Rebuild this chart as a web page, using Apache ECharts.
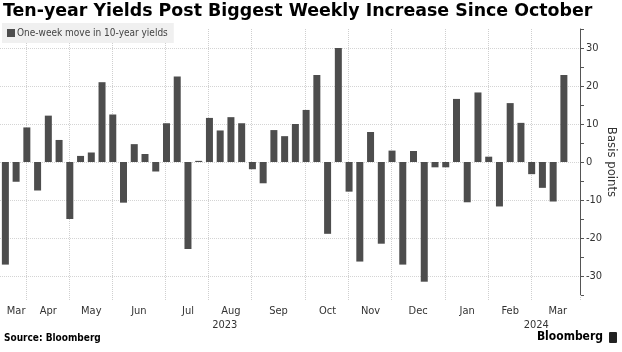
<!DOCTYPE html>
<html>
<head>
<meta charset="utf-8">
<script src="https://cdn.jsdelivr.net/npm/echarts@6/dist/echarts.min.js"></script>
<style>
  html, body { margin: 0; padding: 0; background: #fff; }
  #chart { width: 622px; height: 352px; }
</style>
</head>
<body>
<div id="chart"></div>
<script>
// weekly bars, one every 7 days starting at firstWeek
var firstWeek = '2023-03-24'
var weeklyMoves = [
  -27, -5.2, 9.1, -7.5, 12.2, 5.8, -15, 1.6, 2.5, 21,
  12.5, -10.7, 4.7, 2.1, -2.5, 10.2, 22.5, -22.9, 0.3, 11.6,
  8.3, 11.8, 10.2, -1.9, -5.6, 8.4, 6.8, 10, 13.7, 22.9,
  -18.9, 30, -7.8, -26.2, 7.9, -21.5, 3, -27, 2.9, -31.5,
  -1.4, -1.4, 16.6, -10.6, 18.3, 1.4, -11.7, 15.5, 10.3, -3.2,
  -6.8, -10.4, 22.9
]
// daily category axis range (a few empty days either side)
var axisStart = '2023-03-21'
var axisEnd = '2024-04-01'
var monthNames = ['Jan', 'Feb', 'Mar', 'Apr', 'May', 'Jun', 'Jul', 'Aug', 'Sep', 'Oct', 'Nov', 'Dec']
var yTicks = [-30, -20, -10, 0, 10, 20, 30]

var DAY = 86400000
function toKey(t) {
  return new Date(t).toISOString().slice(0, 10)
}
function parse(s) {
  return Date.parse(s + 'T00:00:00Z')
}

// categories
var days = []
for (var t = parse(axisStart); t <= parse(axisEnd); t += DAY) {
  days.push(toKey(t))
}

// bar values on their week dates, null elsewhere
var weekValue = {}
for (var i = 0; i < weeklyMoves.length; i++) {
  weekValue[toKey(parse(firstWeek) + i * 7 * DAY)] = weeklyMoves[i]
}
var barData = days.map(function(d) {
  return weekValue[d] === undefined ? null : weekValue[d]
})

// month boundaries = first Friday of each month (gridlines)
function isFirstFriday(t) {
  var d = new Date(t)
  return d.getUTCDay() === 5 && d.getUTCDate() <= 7
}
var bounds = [parse(firstWeek)]
for (var t2 = parse(firstWeek) + DAY; t2 <= parse(axisEnd) + 40 * DAY; t2 += DAY) {
  if (isFirstFriday(t2)) bounds.push(t2)
}
var gridDays = {}
bounds.slice(1).forEach(function(b) { gridDays[toKey(b)] = true })

// month labels centred between boundaries
var monthLabel = {}
for (var m = 0; m < bounds.length - 1; m++) {
  if (bounds[m] > parse(axisEnd)) break
  var mid = bounds[m] + Math.floor((bounds[m + 1] - bounds[m]) / DAY / 2) * DAY
  monthLabel[toKey(mid)] = monthNames[new Date(bounds[m]).getUTCMonth()]
}

// year labels centred on each year's span
var yearLabel = {}
var yearStart = bounds[0]
for (var k = 1; k < bounds.length; k++) {
  var yr = new Date(yearStart).getUTCFullYear()
  if (new Date(bounds[k]).getUTCFullYear() !== yr || k === bounds.length - 1) {
    var ymid = yearStart + Math.floor((bounds[k] - yearStart) / DAY / 2) * DAY
    yearLabel[toKey(ymid)] = String(yr)
    yearStart = bounds[k]
  }
}

var chart = echarts.init(document.getElementById('chart'))
var font = '"DejaVu Sans Condensed", "DejaVu Sans", sans-serif'

var option = {
  animation: false,
  backgroundColor: '#fff',
  textStyle: { fontFamily: font },
  title: [{
    text: 'Ten-year Yields Post Biggest Weekly Increase Since October',
    left: 2,
    top: 0,
    padding: [3, 0, 0, 1],
    textStyle: { fontFamily: '"DejaVu Sans", sans-serif', fontSize: 17.4, fontWeight: 'bold', color: '#000' }
  }, {
    text: 'Source: Bloomberg',
    left: 4,
    top: 333,
    padding: 0,
    textStyle: { fontFamily: font, fontSize: 10, fontWeight: 'bold', color: '#000' }
  }, {
    text: 'Bloomberg',
    right: 19,
    top: 331,
    padding: 0,
    textStyle: { fontFamily: font, fontSize: 12, fontWeight: 'bold', color: '#000' }
  }],
  graphic: [{
    type: 'rect',
    right: 5,
    top: 332,
    shape: { width: 8, height: 11, r: 1 },
    style: { fill: '#222' }
  }],
  legend: {
    left: 2,
    top: 23,
    padding: [5, 6, 5, 5],
    backgroundColor: '#f0f0f0',
    icon: 'rect',
    itemWidth: 8,
    itemHeight: 8,
    itemGap: 4,
    textStyle: { fontFamily: font, fontSize: 10, color: '#444', padding: [0, 0, 0, -3] },
    data: ['One-week move in 10-year yields']
  },
  grid: {
    left: 0,
    right: 42,
    top: 29,
    bottom: 57,
    containLabel: false,
    outerBoundsMode: 'none'
  },
  xAxis: [{
    type: 'category',
    data: days,
    position: 'bottom',
    axisLine: { show: false, onZero: false },
    axisTick: {
      show: true,
      length: 6,
      interval: function(i, v) { return !!gridDays[v] },
      lineStyle: { color: '#d0d0d0', type: 'dotted' }
    },
    splitLine: {
      show: true,
      interval: function(i, v) { return !!gridDays[v] },
      lineStyle: { color: '#cfcfcf', type: 'dotted', width: 1 }
    },
    axisLabel: {
      margin: 11,
      fontSize: 11,
      color: '#333',
      interval: function(i, v) { return monthLabel[v] !== undefined },
      formatter: function(v) { return monthLabel[v] || '' }
    }
  }, {
    type: 'category',
    data: days,
    position: 'bottom',
    offset: 14,
    axisLine: { show: false, onZero: false },
    axisTick: { show: false },
    splitLine: { show: false },
    axisLabel: {
      margin: 11,
      fontSize: 11,
      color: '#333',
      interval: function(i, v) { return yearLabel[v] !== undefined },
      formatter: function(v) { return yearLabel[v] || '' }
    }
  }],
  yAxis: {
    type: 'value',
    position: 'right',
    min: -35,
    max: 35,
    interval: 5,
    name: 'Basis points',
    nameLocation: 'middle',
    nameRotate: -90,
    nameGap: 31,
    nameMoveOverlap: false,
    nameTextStyle: { fontFamily: font, fontSize: 13, color: '#333', align: 'center', verticalAlign: 'middle' },
    axisLine: { show: true, lineStyle: { color: '#555' } },
    axisTick: { show: true, length: 4, lineStyle: { color: '#555' } },
    axisLabel: {
      margin: 6,
      fontSize: 11,
      color: '#333',
      formatter: function(v) { return yTicks.indexOf(v) >= 0 ? String(v) : '' }
    },
    splitLine: {
      show: true,
      // lines only on the labelled ticks (every other 5-step tick)
      lineStyle: { color: ['rgba(0,0,0,0)', '#d4d4d4'], type: 'dotted' }
    }
  },
  series: [{
    name: 'One-week move in 10-year yields',
    type: 'bar',
    xAxisIndex: 0,
    barWidth: 7,
    data: barData,
    itemStyle: { color: '#4d4d4d' }
  }]
}
chart.setOption(option)
</script>
</body>
</html>
